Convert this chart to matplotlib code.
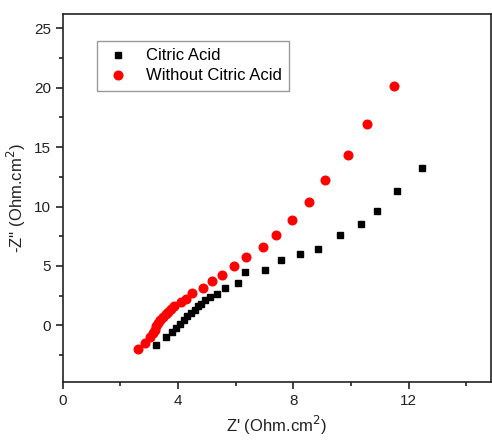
import numpy as np
import matplotlib
matplotlib.use('Agg')
import matplotlib.pyplot as plt
from matplotlib.ticker import MultipleLocator

plt.rcParams['font.family'] = ['Liberation Sans', 'DejaVu Sans']

# Nyquist data, Z' and -Z'' in Ohm.cm2
z_re_ca = [3.24, 3.57, 3.78, 3.94, 4.08, 4.22, 4.32, 4.45, 4.58, 4.70, 4.81, 4.95,
           5.11, 5.34, 5.63, 6.07, 6.31, 7.00, 7.58, 8.22, 8.86, 9.60, 10.35,
           10.89, 11.59, 12.44]
z_im_ca = [-1.63, -1.01, -0.56, -0.19, 0.14, 0.48, 0.78, 1.04, 1.32, 1.60, 1.83, 2.13,
           2.38, 2.61, 3.14, 3.56, 4.46, 4.69, 5.47, 6.04, 6.42, 7.58, 8.50,
           9.65, 11.34, 13.27]

z_re_no = [2.60, 2.86, 3.04, 3.12, 3.19, 3.25, 3.32, 3.39, 3.48, 3.57, 3.66, 3.76,
           3.87, 4.10, 4.29, 4.49, 4.86, 5.16, 5.53, 5.95, 6.37, 6.96, 7.38,
           7.94, 8.53, 9.10, 9.89, 10.56, 11.48]
z_im_no = [-2.02, -1.46, -0.98, -0.65, -0.36, -0.08, 0.19, 0.48, 0.70, 0.93, 1.15, 1.37,
           1.62, 1.96, 2.25, 2.75, 3.17, 3.73, 4.21, 4.97, 5.75, 6.59, 7.63,
           8.90, 10.38, 12.20, 14.37, 16.98, 20.18]

fig = plt.figure(figsize=(4.92, 4.41), dpi=100)
ax = fig.add_axes([0.1274, 0.133, 0.8706, 0.835])

ax.plot(z_re_ca, z_im_ca, 's', color='black', markersize=5, label='Citric Acid')
ax.plot(z_re_no, z_im_no, 'o', color='red', markersize=6.2, label='Without Citric Acid')

ax.set_xlim(0, 14.85)
ax.set_ylim(-4.8, 26.2)
ax.xaxis.set_major_locator(MultipleLocator(4))
ax.xaxis.set_minor_locator(MultipleLocator(2))
ax.yaxis.set_major_locator(MultipleLocator(5))
ax.yaxis.set_minor_locator(MultipleLocator(2.5))
ax.tick_params(which='both', direction='out', width=1.2, labelsize=11, colors='#222222')
ax.tick_params(which='major', length=5)
ax.tick_params(which='minor', length=3)
for s in ax.spines.values():
    s.set_linewidth(1.2)
    s.set_color('#222222')

ax.set_xlabel("Z' (Ohm.cm$^2$)", fontsize=12, color='#222222')
ax.set_ylabel("-Z'' (Ohm.cm$^2$)", fontsize=12, color='#222222')

leg = ax.legend(loc='upper left', bbox_to_anchor=(0.08, 0.927), borderaxespad=0,
                fontsize=12, fancybox=False, framealpha=1, edgecolor='#999999',
                handlelength=1.6, handletextpad=0.9, borderpad=0.45, labelspacing=0.3)
leg.get_frame().set_linewidth(1.0)

fig.savefig('out.png', dpi=100)
